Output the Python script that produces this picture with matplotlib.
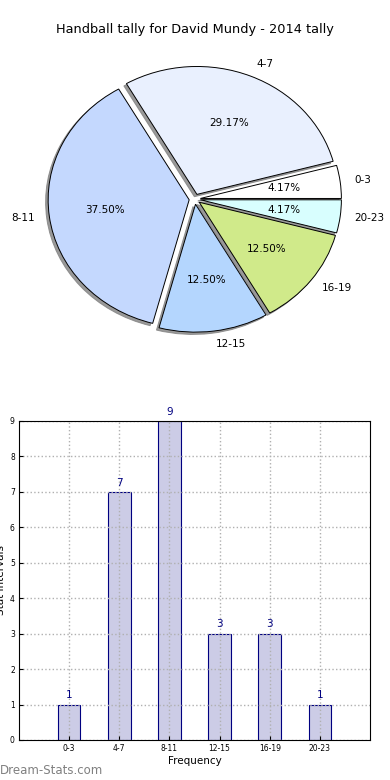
import matplotlib
matplotlib.use("Agg")
import matplotlib.pyplot as plt

# data
categories = ["0-3", "4-7", "8-11", "12-15", "16-19", "20-23"]
counts = [1, 7, 9, 3, 3, 1]
pie_colors = ["#FFFFFF", "#E9F0FE", "#C4D8FE", "#B4D6FE", "#D0EA8A", "#D8FEFE"]
title = "Handball tally for David Mundy - 2014 tally"


def main():
    fig = plt.figure(figsize=(3.9, 7.8), dpi=100)

    # pie chart (slightly elliptical, like the old style)
    ax1 = fig.add_axes([0.0474, 0.5397, 0.904, 0.410])
    ax1.pie(counts, labels=categories, colors=pie_colors, explode=[0.04] * len(counts),
            autopct="%.2f%%", startangle=0,
            shadow={"ox": -0.013, "oy": -0.013, "facecolor": "0.5", "edgecolor": "0.5", "alpha": 0.8},
            wedgeprops={"edgecolor": "black", "linewidth": 0.7},
            textprops={"fontsize": 7.5})
    ax1.set_aspect("auto")
    ax1.set_xlim(-1.25, 1.25)
    ax1.set_ylim(-1.25, 1.25)
    fig.text(0.5, 1 - 30 / 780, title, ha="center", va="center", fontsize=9.3)

    # bar chart
    ax2 = fig.add_axes([0.0487, 0.0513, 0.9, 0.409])
    xs = list(range(len(categories)))
    ax2.bar(xs, counts, width=0.45, color="#CCCCE6", edgecolor="#000080", linewidth=0.8)
    for x, c in zip(xs, counts):
        ax2.text(x, c + 0.12, str(c), ha="center", va="bottom", color="#000080", fontsize=7.5)
    ax2.set_xlim(-1, 6)
    ax2.set_ylim(0, 9)
    ax2.set_xticks(xs)
    ax2.set_xticklabels(categories)
    ax2.set_yticks(range(10))
    ax2.tick_params(labelsize=5.5, direction="in", length=3, pad=3)
    ax2.set_axisbelow(False)
    ax2.grid(True, linestyle=":", color="#b0b0b0", linewidth=1)
    for sp in ax2.spines.values():
        sp.set_zorder(5)
    ax2.set_xlabel("Frequency", fontsize=7.5, labelpad=2)
    ax2.set_ylabel("Stat Intervals", fontsize=7.5)
    ax2.yaxis.set_label_coords(-0.037, 0.5)

    fig.text(0.0, 0.012, "Dream-Stats.com", color="#808080", fontsize=8.5, ha="left", va="center")

    fig.savefig("out.png", dpi=100)


if __name__ == "__main__":
    main()
